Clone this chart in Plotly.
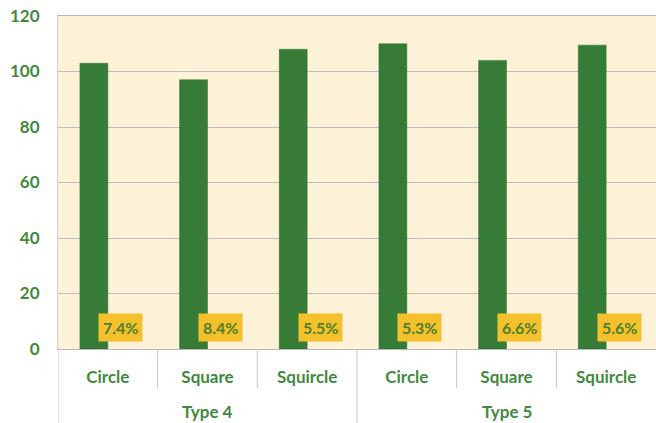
import plotly.graph_objects as go

groups = ["Type 4", "Type 4", "Type 4", "Type 5", "Type 5", "Type 5"]
shapes = ["Circle", "Square", "Squircle", "Circle", "Square", "Squircle"]
values = [103, 97, 108, 110, 104, 109.5]
pct_labels = ["7.4%", "8.4%", "5.5%", "5.3%", "6.6%", "5.6%"]

GREEN_TXT = "#3f8a3c"
FONT = "Lato, 'Open Sans', sans-serif"
idx = list(range(len(shapes)))

fig = go.Figure()
fig.add_trace(go.Bar(
    x=idx, y=values,
    marker=dict(color="#367c37", line=dict(color="#2f6e31", width=0.5)),
    width=0.28, offset=-0.28, showlegend=False,
))

for i, lab in zip(idx, pct_labels):
    fig.add_annotation(
        x=i, y=0, xref="x", yref="y", xshift=13, yshift=7,
        yanchor="bottom", text="<b>%s</b>" % lab, showarrow=False,
        bgcolor="#f4c02c", borderpad=4,
        font=dict(family=FONT, size=16, color="#4d7f2c"),
    )

# outer group labels and dividers
uniq = []
for g in groups:
    if g not in uniq:
        uniq.append(g)
for g in uniq:
    members = [i for i in idx if groups[i] == g]
    fig.add_annotation(
        x=sum(members) / len(members), y=0, xref="x", yref="paper",
        yshift=-62, yanchor="middle", text="<b>%s</b>" % g, showarrow=False,
        font=dict(family=FONT, size=17, color=GREEN_TXT),
    )

for b in range(len(idx)):
    pos = b - 0.5
    full = b == 0 or groups[b] != groups[b - 1]
    fig.add_shape(
        type="line", xref="x", yref="paper", x0=pos, x1=pos,
        y0=0, y1=(-74 / 333) if full else (-39 / 333),
        line=dict(color="#c8c8c8", width=1),
    )

fig.update_layout(
    width=656, height=423,
    margin=dict(l=58, r=0, t=16, b=74),
    paper_bgcolor="white", plot_bgcolor="#fdf2d7",
    font=dict(family=FONT, color=GREEN_TXT),
    xaxis=dict(
        range=[-0.5, len(idx) - 0.5], tickvals=idx, ticktext=shapes,
        tickfont=dict(size=17, color=GREEN_TXT, family=FONT, weight="bold"),
        showline=True, linecolor="#b8b8b8", linewidth=1, mirror=True,
        showgrid=False, ticks="", automargin=False, zeroline=False,
        ticklabelstandoff=13,
    ),
    yaxis=dict(
        range=[0, 120], dtick=20, showgrid=True, gridcolor="#bdbdbd",
        gridwidth=1, zeroline=False, ticks="", ticklen=0,
        tickfont=dict(size=17, color=GREEN_TXT, family=FONT, weight="bold"),
        showline=True, linecolor="#d0d0d0", linewidth=1,
        automargin=False, ticklabelstandoff=14,
    ),
)

fig.write_html("out.html", config={"displayModeBar": False},
               post_script="document.body.style.margin='0';")
